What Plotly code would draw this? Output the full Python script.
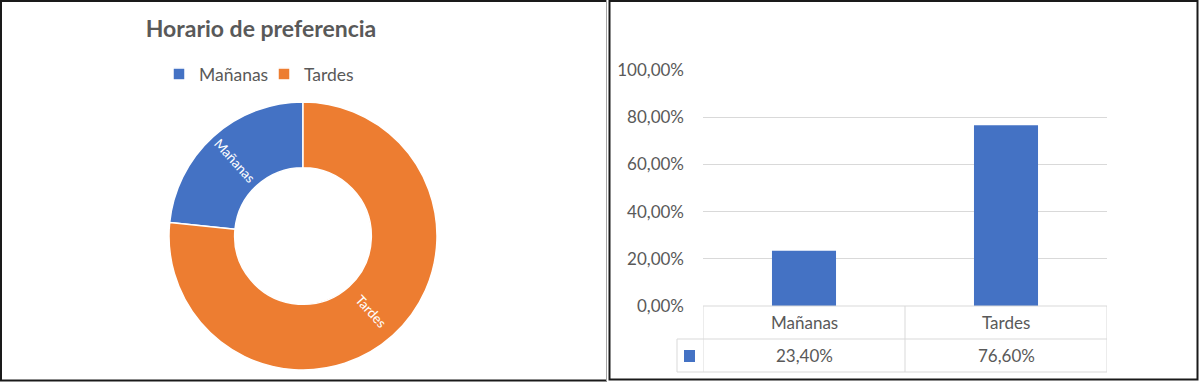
import math
import plotly.graph_objects as go

# ---------------- data ----------------
title_text = "Horario de preferencia"
categories = ["Mañanas", "Tardes"]
percent_values = [23.4, 76.6]          # percent
slice_colors = ["#4472C4", "#ED7D31"]
bar_color = "#4472C4"
y_tick_values = [0, 0.2, 0.4, 0.6, 0.8, 1.0]

W, H = 1200, 382
FONT = "Lato"
GRAY = "#595959"
GRID = "#d9d9d9"


def px(x):
    return x / W


def py(y):
    return 1 - y / H


fig = go.Figure()

# ---------------- doughnut ----------------
HOLE = 0.51
PIE_X = (169, 437)      # px extents of the doughnut
PIE_Y = (102, 370)
total = sum(percent_values)
start_deg = -360 * percent_values[0] / total   # first slice ends at 12 o'clock

fig.add_trace(go.Pie(
    labels=categories,
    values=percent_values,
    hole=HOLE,
    sort=False,
    direction="clockwise",
    rotation=start_deg,
    marker=dict(colors=slice_colors, line=dict(color="white", width=1.5)),
    textinfo="none",
    domain=dict(x=[px(PIE_X[0]), px(PIE_X[1])], y=[py(PIE_Y[1]), py(PIE_Y[0])]),
    showlegend=True,
    hoverinfo="label+percent",
))

# ---------------- bars ----------------
fig.add_trace(go.Bar(
    x=categories,
    y=[v / 100 for v in percent_values],
    marker=dict(color=bar_color),
    showlegend=False,
    xaxis="x",
    yaxis="y",
))

fig.update_layout(
    template="none",
    width=W, height=H,
    autosize=False,
    margin=dict(l=0, r=0, t=0, b=0, pad=0, autoexpand=False),
    paper_bgcolor="white",
    plot_bgcolor="white",
    separators=",.",
    bargap=0.683,
    title=dict(
        text="<b>" + title_text + "</b>",
        x=px(261), y=py(28.5), xanchor="center", yanchor="middle",
        font=dict(family=FONT, size=23, color=GRAY),
    ),
    legend=dict(
        orientation="h",
        x=px(264), y=py(74), xanchor="center", yanchor="middle",
        font=dict(family=FONT, size=17.5, color=GRAY),
        bgcolor="rgba(0,0,0,0)",
        borderwidth=0,
        itemwidth=30,
        entrywidth=60,
        entrywidthmode="pixels",
    ),
    xaxis=dict(
        domain=[px(703), px(1107)],
        automargin=False,
        showticklabels=False,
        showgrid=False,
        zeroline=False,
        showline=False,
        ticks="",
        range=[-0.5, 1.5],
    ),
    yaxis=dict(
        domain=[py(306), py(70)],
        automargin=False,
        range=[0, 1.0005],
        tickvals=y_tick_values,
        tickformat=".2%",
        showgrid=True,
        gridcolor=GRID,
        gridwidth=1,
        zeroline=False,
        showline=False,
        ticks="",
        ticklabelstandoff=18,
        tickfont=dict(family=FONT, size=17, color=GRAY),
    ),
)

annotations = []

# doughnut slice labels, radial, placed at the middle of each slice
cx = px((PIE_X[0] + PIE_X[1]) / 2)
cy = py((PIE_Y[0] + PIE_Y[1]) / 2)
R = (PIE_X[1] - PIE_X[0]) / 2
r_mid = R * (1 + HOLE) / 2
acc = 0.0
for cat, val in zip(categories, percent_values):
    mid = start_deg + (acc + val / 2) / total * 360      # degrees clockwise from 12 o'clock
    acc += val
    rad = math.radians(mid)
    dx = r_mid * math.sin(rad)
    dy = r_mid * math.cos(rad)
    ang = mid - 90
    while ang > 90:
        ang -= 180
    while ang < -90:
        ang += 180
    annotations.append(dict(
        xref="paper", yref="paper", x=cx + dx / W, y=cy + dy / H,
        text=cat, textangle=ang, showarrow=False, xanchor="center", yanchor="middle",
        font=dict(family=FONT, size=13.5, color="white"),
    ))

# ---------------- data table under the bar chart ----------------
shapes = []
line_style = dict(color=GRID, width=1)
shapes.append(dict(type="line", xref="paper", yref="paper", x0=px(703), x1=px(1107), y0=py(306), y1=py(306), line=line_style))
shapes.append(dict(type="line", xref="paper", yref="paper", x0=px(677), x1=px(1107), y0=py(339), y1=py(339), line=line_style))
shapes.append(dict(type="line", xref="paper", yref="paper", x0=px(677), x1=px(1107), y0=py(372), y1=py(372), line=line_style))
for xb in [-0.5, 0.5, 1.5]:
    shapes.append(dict(type="line", xref="x", yref="paper", x0=xb, x1=xb, y0=py(372), y1=py(306), line=line_style))
shapes.append(dict(type="line", xref="paper", yref="paper", x0=px(677), x1=px(677), y0=py(372), y1=py(339), line=line_style))
shapes.append(dict(type="rect", xref="paper", yref="paper", x0=px(684), x1=px(695), y0=py(362), y1=py(350),
                   fillcolor=bar_color, line=dict(width=0)))

# ---------------- panel borders ----------------
dark = "#1a1a1a"
shapes.append(dict(type="line", xref="paper", yref="paper", x0=px(1), x1=px(1), y0=py(381), y1=py(0), line=dict(color=dark, width=2)))
shapes.append(dict(type="line", xref="paper", yref="paper", x0=px(0), x1=px(607), y0=py(1), y1=py(1), line=dict(color=dark, width=2)))
shapes.append(dict(type="line", xref="paper", yref="paper", x0=px(0), x1=px(607), y0=py(380.5), y1=py(380.5), line=dict(color=dark, width=2)))
shapes.append(dict(type="line", xref="paper", yref="paper", x0=px(606.5), x1=px(606.5), y0=py(381), y1=py(0), line=dict(color="#a6a6a6", width=1)))
shapes.append(dict(type="rect", xref="paper", yref="paper", x0=px(609.5), x1=px(1197.5), y0=py(379.5), y1=py(1),
                   line=dict(color=dark, width=2), fillcolor="rgba(0,0,0,0)"))

for cat, val in zip(categories, percent_values):
    annotations.append(dict(xref="x", yref="paper", x=cat, y=py(322.5), text=cat, showarrow=False,
                            xanchor="center", yanchor="middle", font=dict(family=FONT, size=17, color=GRAY)))
    annotations.append(dict(xref="x", yref="paper", x=cat, y=py(355.5),
                            text=f"{val:.2f}%".replace(".", ","), showarrow=False,
                            xanchor="center", yanchor="middle", font=dict(family=FONT, size=17, color=GRAY)))

fig.update_layout(shapes=shapes, annotations=annotations)

post = (
    "document.documentElement.style.margin='0';"
    "document.body.style.margin='0';"
    "document.body.style.overflow='hidden';"
    "var gd=document.getElementById('{plot_id}');"
    "Plotly.relayout(gd,{width:1200,height:382});"
)
fig.write_html("out.html", config={"responsive": False, "displayModeBar": False}, post_script=post)
